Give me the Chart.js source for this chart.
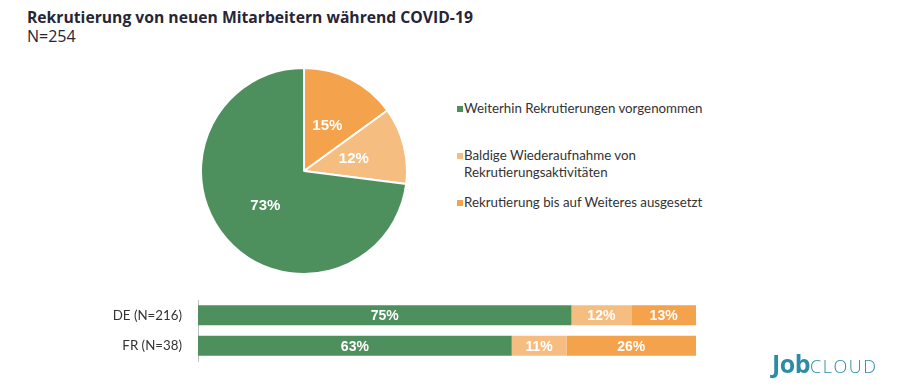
<!DOCTYPE html>
<html>
<head>
<meta charset="utf-8">
<script src="https://cdn.jsdelivr.net/npm/chart.js@4"></script>
<style>
  body { margin: 0; background: #fff; width: 901px; height: 391px; position: relative; overflow: hidden; }
  .title { position: absolute; left: 27px; top: 6px; font: bold 15.7px "Open Sans", sans-serif; color: #262637; }
  .subtitle { position: absolute; left: 27px; top: 25px; font: 16px "Open Sans", sans-serif; color: #262637; }
  #pieChart { position: absolute; left: 200px; top: 67px; }
  #barChart { position: absolute; left: 0; top: 290px; }
  #legend { position: absolute; left: 457px; top: 100px; font: 13.3px Lato, sans-serif; color: #333; }
  .item { position: absolute; left: 0; white-space: nowrap; line-height: 17px; }
  .item i { position: absolute; left: 0; top: 6px; width: 6px; height: 6px; }
  .item span { display: block; margin-left: 7px; }
  .logo { position: absolute; left: 772px; top: 346px; color: #2a8ca6; font-family: "Open Sans", sans-serif; white-space: nowrap; }
  .logo b { font-size: 25px; font-weight: 700; letter-spacing: -0.5px; }
  .logo span { font-size: 18px; font-weight: 300; letter-spacing: 1.5px; }
</style>
</head>
<body>
<div class="title">Rekrutierung von neuen Mitarbeitern während COVID-19</div>
<div class="subtitle">N=254</div>
<canvas id="pieChart" width="208" height="208"></canvas>
<div id="legend"></div>
<canvas id="barChart" width="901" height="80"></canvas>
<div class="logo"><b>Job</b><span>CLOUD</span></div>
<script>
// categories (legend order)
const categories = [
    ['Weiterhin Rekrutierungen vorgenommen'],
    ['Baldige Wiederaufnahme von', 'Rekrutierungsaktivitäten'],
    ['Rekrutierung bis auf Weiteres ausgesetzt']
];
const colors = ['#4e8f5e', '#f6bd80', '#f4a24b'];

// total (N=254), same order as categories
const totalValues = [73, 12, 15];

// breakdown by region
const regions = ['DE (N=216)', 'FR (N=38)'];
const weiterhinValues = [75, 63];
const baldigeValues = [12, 11];
const ausgesetztValues = [13, 26];

const legendTops = [0, 47, 94];

// legend
const legend = document.getElementById('legend');
categories.forEach(function (lines, i) {
    const item = document.createElement('div');
    item.className = 'item';
    item.style.top = legendTops[i] + 'px';
    item.innerHTML = '<i style="background:' + colors[i] + '"></i><span>' + lines.join('<br>') + '</span>';
    legend.appendChild(item);
});

// draw percentage labels in the middle of each mark
const valueLabels = {
    id: 'valueLabels',
    afterDatasetsDraw(chart, args, opts) {
        const ctx = chart.ctx;
        ctx.save();
        ctx.fillStyle = '#fff';
        ctx.font = opts.font;
        ctx.textAlign = 'center';
        ctx.textBaseline = 'middle';
        chart.data.datasets.forEach(function (ds, di) {
            chart.getDatasetMeta(di).data.forEach(function (el, i) {
                let x, y;
                if (chart.config.type === 'pie') {
                    const mid = (el.startAngle + el.endAngle) / 2;
                    const r = el.outerRadius * 0.5;
                    x = el.x + Math.cos(mid) * r;
                    y = el.y + Math.sin(mid) * r;
                } else {
                    x = (el.base + el.x) / 2;
                    y = el.y;
                }
                ctx.fillText(ds.data[i] + '%', x, y + 1);
            });
        });
        ctx.restore();
    }
};

// pie is drawn clockwise from the top in reverse legend order
const pieOrder = [2, 1, 0];
new Chart(document.getElementById('pieChart'), {
    type: 'pie',
    data: {
        labels: pieOrder.map(i => categories[i].join(' ')),
        datasets: [{
            data: pieOrder.map(i => totalValues[i]),
            backgroundColor: pieOrder.map(i => colors[i]),
            borderColor: '#fff',
            borderWidth: 2
        }]
    },
    options: {
        responsive: false,
        animation: false,
        layout: { padding: 0 },
        plugins: {
            legend: { display: false },
            tooltip: { enabled: false },
            valueLabels: { font: 'bold 15px "Liberation Sans", Arial, sans-serif' }
        }
    },
    plugins: [valueLabels]
});

new Chart(document.getElementById('barChart'), {
    type: 'bar',
    data: {
        labels: regions,
        datasets: [
            { label: categories[0].join(' '), data: weiterhinValues, backgroundColor: colors[0] },
            { label: categories[1].join(' '), data: baldigeValues, backgroundColor: colors[1] },
            { label: categories[2].join(' '), data: ausgesetztValues, backgroundColor: colors[2] }
        ]
    },
    options: {
        indexAxis: 'y',
        responsive: false,
        animation: false,
        layout: { padding: { top: 10, bottom: 9, left: 0, right: 205 } },
        datasets: { bar: { barPercentage: 1, categoryPercentage: 0.66 } },
        scales: {
            x: { stacked: true, min: 0, max: 100, display: false },
            y: {
                stacked: true,
                grid: { display: false, drawTicks: true, tickLength: 15 },
                border: { display: true, color: '#bfbfbf', width: 1 },
                ticks: { color: '#333', padding: 1, font: { family: 'Lato', size: 13.3 } },
                afterFit: function (scale) { scale.width = 198; }
            }
        },
        plugins: {
            legend: { display: false },
            tooltip: { enabled: false },
            valueLabels: { font: 'bold 14px "Liberation Sans", Arial, sans-serif' }
        }
    },
    plugins: [valueLabels]
});
</script>
</body>
</html>
